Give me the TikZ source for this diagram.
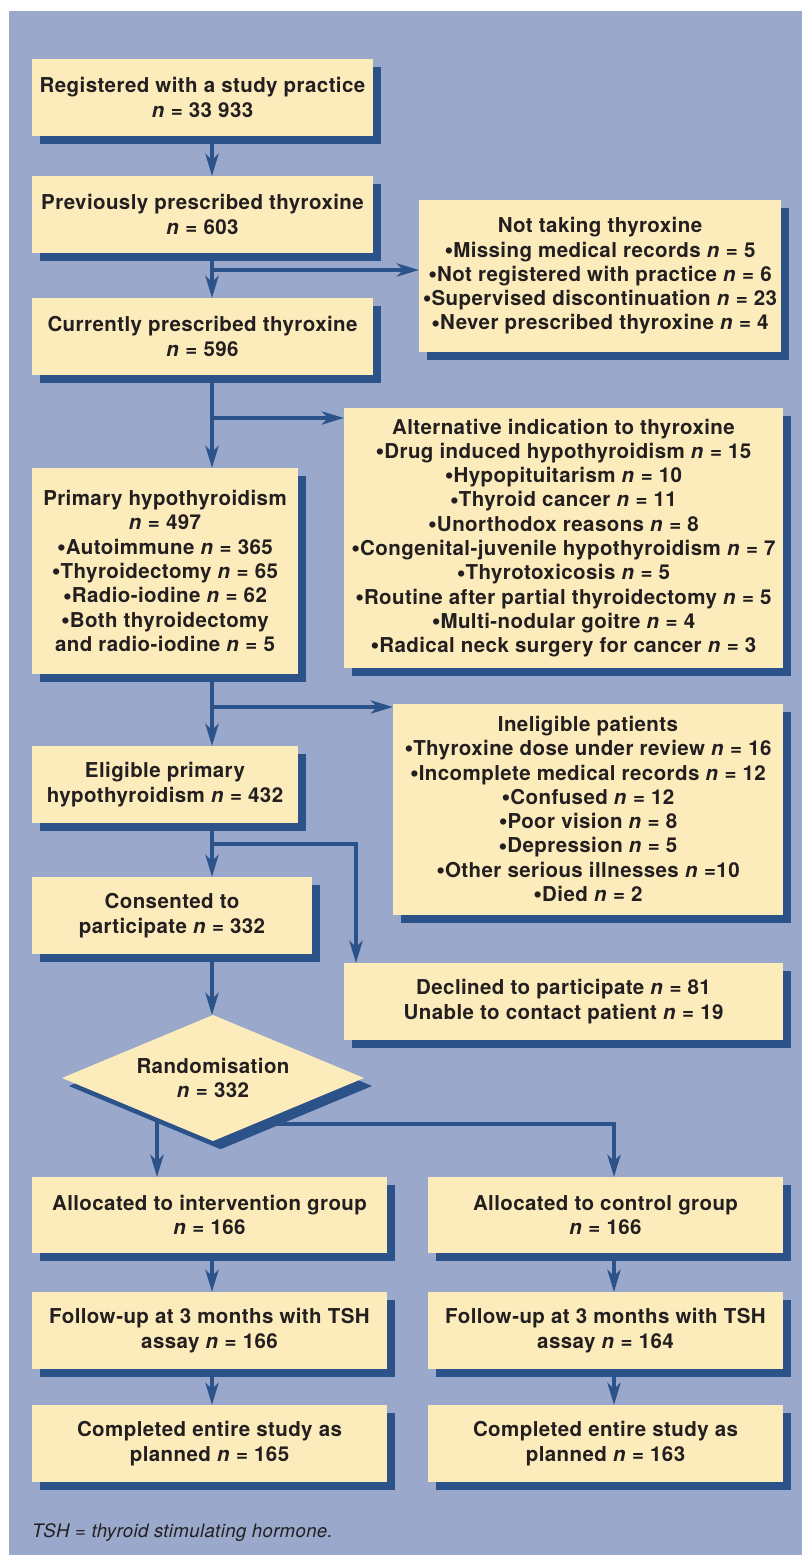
\documentclass[tikz,border=0pt]{standalone}
\usepackage{fontspec}
\setmainfont{TeX Gyre Heros}[LetterSpace=2]
\usetikzlibrary{shapes.geometric,shadows,arrows.meta,backgrounds,calc}
\definecolor{panel}{RGB}{153,168,203}
\definecolor{boxfill}{RGB}{253,236,187}
\definecolor{dblue}{RGB}{44,82,138}
\definecolor{txt}{RGB}{35,31,32}
\newcommand\bul{\raisebox{-1.2pt}{\fontsize{25}{24}\selectfont•}}
\begin{document}
\begin{tikzpicture}[x=1pt,y=-1pt,
  flowbox/.style={fill=boxfill, text=txt, font=\bfseries\fontsize{20.5}{24.3}\selectfont, align=center, inner sep=0pt, outer sep=0pt,
    drop shadow={shadow xshift=8pt, shadow yshift=-8pt, fill=dblue, opacity=1}},
  sz/.style 2 args={minimum width=#1pt, minimum height=#2pt},
  arr/.style={draw=dblue, line width=4.5pt, -{Stealth[length=22pt,width=13pt,inset=6pt]}}]
\useasboundingbox (0,0) rectangle (802,1555);

\coordinate (sp) at (212,0);
\coordinate (b1) at (0,270);
\coordinate (b2) at (0,418);
\coordinate (b3) at (0,707);
\coordinate (b4) at (0,844);
\coordinate (dx) at (356,0);
\coordinate (ai) at (157,0);
\coordinate (ac) at (614,0);

\node[flowbox, sz={341}{77}] (reg) at (202.5,97.5) {Registered with a study practice\\\textit{n} = 33 933};
\node[flowbox, sz={341}{77}] (prev) at (202.5,214.5) {Previously prescribed thyroxine\\\textit{n} = 603};
\node[flowbox, sz={362}{152}] (nottak) at (600,276) {Not taking thyroxine\\
  \bul Missing medical records \textit{n} = 5\\
  \bul Not registered with practice \textit{n} = 6\\
  \bul Supervised discontinuation \textit{n} = 23\\
  \bul Never prescribed thyroxine \textit{n} = 4};
\node[flowbox, sz={341}{77}] (curr) at (202.5,336.5) {Currently prescribed thyroxine\\\textit{n} = 596};
\node[flowbox, sz={439}{260}] (alt) at (563.5,538) {Alternative indication to thyroxine\\
  \bul Drug induced hypothyroidism \textit{n} = 15\\
  \bul Hypopituitarism \textit{n} = 10\\
  \bul Thyroid cancer \textit{n} = 11\\
  \bul Unorthodox reasons \textit{n} = 8\\
  \bul Congenital-juvenile hypothyroidism \textit{n} = 7\\
  \bul Thyrotoxicosis \textit{n} = 5\\
  \bul Routine after partial thyroidectomy \textit{n} = 5\\
  \bul Multi-nodular goitre \textit{n} = 4\\
  \bul Radical neck surgery for cancer \textit{n} = 3};
\node[flowbox, sz={266}{206}] (prim) at (165,571) {Primary hypothyroidism\\
  \textit{n} = 497\\
  \bul Autoimmune \textit{n} = 365\\
  \bul Thyroidectomy \textit{n} = 65\\
  \bul Radio-iodine \textit{n} = 62\\
  \bul Both thyroidectomy\\
  and radio-iodine \textit{n} = 5};
\node[flowbox, sz={390}{211}] (inel) at (588,809.5) {Ineligible patients\\
  \bul Thyroxine dose under review \textit{n} = 16\\
  \bul Incomplete medical records \textit{n} = 12\\
  \bul Confused \textit{n} = 12\\
  \bul Poor vision \textit{n} = 8\\
  \bul Depression \textit{n} = 5\\
  \bul Other serious illnesses \textit{n} =10\\
  \bul Died \textit{n} = 2};
\node[flowbox, sz={266}{77}] (elig) at (165,784.5) {Eligible primary\\hypothyroidism \textit{n} = 432};
\node[flowbox, sz={280}{77}] (cons) at (172,915.5) {Consented to\\participate \textit{n} = 332};
\node[flowbox, sz={439}{77}] (decl) at (563.5,1001.5) {Declined to participate \textit{n} = 81\\Unable to contact patient \textit{n} = 19};
\node[flowbox, shape=diamond, aspect=2.4, sz={302}{126},
  drop shadow={shadow xshift=7pt, shadow yshift=-8pt, fill=dblue, opacity=1}] (rand) at (213,1078) {Randomisation\\\textit{n} = 332};
\node[flowbox, sz={355}{76}] (allocI) at (209.5,1215) {Allocated to intervention group\\\textit{n} = 166};
\node[flowbox, sz={355}{76}] (allocC) at (605.5,1215) {Allocated to control group\\\textit{n} = 166};
\node[flowbox, sz={355}{77}] (follI) at (209.5,1330.5) {Follow-up at 3 months with TSH\\assay \textit{n} = 166};
\node[flowbox, sz={355}{77}] (follC) at (605.5,1330.5) {Follow-up at 3 months with TSH\\assay \textit{n} = 164};
\node[flowbox, sz={355}{77}] (compI) at (209.5,1443.5) {Completed entire study as\\planned \textit{n} = 165};
\node[flowbox, sz={355}{77}] (compC) at (605.5,1443.5) {Completed entire study as\\planned \textit{n} = 163};
\node[anchor=base west, text=txt, font=\itshape\fontsize{18.6}{22}\selectfont, inner sep=0pt] (note) at (32,1537) {TSH = thyroid stimulating hormone.};

\begin{pgfonlayer}{background}
\fill[white] (0,0) rectangle (802,1555);
\fill[panel] (9,11) rectangle (802,1555);
\draw[arr] (reg.south -| sp) -- (prev.north -| sp);
\draw[arr] (prev.south -| sp) -- (curr.north -| sp);
\draw[arr] (sp |- b1) -- (nottak.west |- b1);
\draw[arr] (curr.south -| sp) -- (prim.north -| sp);
\draw[arr] (sp |- b2) -- (alt.west |- b2);
\draw[arr] (prim.south -| sp) -- (elig.north -| sp);
\draw[arr] (sp |- b3) -- (inel.west |- b3);
\draw[arr] (elig.south -| sp) -- (cons.north -| sp);
\draw[arr] (sp |- b4) -| (decl.north -| dx);
\draw[arr] (cons.south -| sp) -- (rand.north -| sp);
\draw[arr] (rand.south west -| ai) -- (allocI.north -| ai);
\draw[arr] ($(rand.south)+(0,-17)$) -| (allocC.north -| ac);
\draw[arr] (allocI.south -| sp) -- (follI.north -| sp);
\draw[arr] (follI.south -| sp) -- (compI.north -| sp);
\draw[arr] (allocC.south -| ac) -- (follC.north -| ac);
\draw[arr] (follC.south -| ac) -- (compC.north -| ac);
\end{pgfonlayer}
\end{tikzpicture}
\end{document}
